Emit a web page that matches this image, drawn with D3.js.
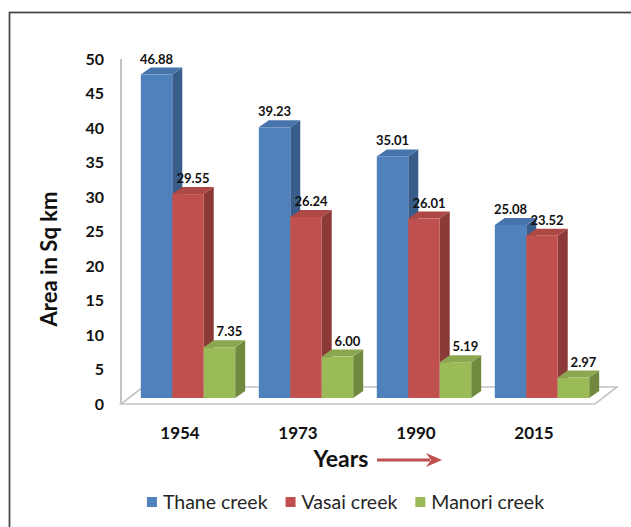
<!DOCTYPE html>
<html>
<head>
<meta charset="utf-8">
<script src="https://cdn.jsdelivr.net/npm/d3@7"></script>
<style>
  html, body { margin: 0; padding: 0; background: #fff; }
  svg { display: block; }
</style>
</head>
<body>
<svg id="chart" width="631" height="527"></svg>
<script>
const years = ["1954", "1973", "1990", "2015"];
const seriesNames = ["Thane creek", "Vasai creek", "Manori creek"];
const thane = [46.88, 39.23, 35.01, 25.08];
const vasai = [29.55, 26.24, 26.01, 23.52];
const manori = [7.35, 6.00, 5.19, 2.97];
const yTicks = [0, 5, 10, 15, 20, 25, 30, 35, 40, 45, 50];
const seriesValues = [thane, vasai, manori];
const colors = [
  { front: "#4f81bd", side: "#385d8a", top: "#4674ab" },
  { front: "#c0504d", side: "#8c3a38", top: "#ad4845" },
  { front: "#9bbb59", side: "#71893f", top: "#8ba850" }
];

const svg = d3.select("#chart");
const font = "Lato, 'Open Sans', sans-serif";

// Outer border
svg.append("rect").attr("x", 9.5).attr("y", 12.5).attr("width", 640).attr("height", 540)
  .attr("fill", "none").attr("stroke", "#4a4a4a").attr("stroke-width", 1.8);

const x = d3.scaleBand().domain(years).range([121, 593]).paddingInner(0.2).paddingOuter(0.1);
const y = d3.scaleLinear().domain([0, 50]).range([404, 59]);

const floorD = { dx: 22, dy: -17 };
const barOff = { dx: 8, dy: -6 };
const barD = { dx: 10, dy: -7 };

// left wall edge
svg.append("line").attr("x1", 121).attr("x2", 121).attr("y1", y(50)).attr("y2", y(0))
  .attr("stroke", "#c4c4c4").attr("stroke-width", 2);

// floor
const fl = [[121, y(0)], [595, y(0)], [595 + floorD.dx, y(0) + floorD.dy], [121 + floorD.dx, y(0) + floorD.dy]];
svg.append("polygon").attr("points", fl.map(p => p.join(",")).join(" "))
  .attr("fill", "#fff").attr("stroke", "#c4c4c4").attr("stroke-width", 1.6);

// y tick labels
svg.append("g").selectAll("text").data(yTicks).join("text")
  .attr("x", 104).attr("y", d => y(d)).attr("dy", "0.35em")
  .attr("text-anchor", "end").attr("font-family", font).attr("font-weight", "bold")
  .attr("font-size", 16).attr("fill", "#111").text(d => d);

// y title
svg.append("text").attr("transform", "translate(57,259) rotate(-90)")
  .attr("text-anchor", "middle").attr("font-family", font).attr("font-weight", "bold")
  .attr("font-size", 22).attr("fill", "#111").text("Area in Sq km");

const bw = x.bandwidth() / seriesNames.length;
const bars = svg.append("g");
years.forEach((yr, gi) => {
  seriesValues.forEach((vals, si) => {
    const v = vals[gi];
    const x0 = x(yr) + barOff.dx + si * bw;
    const x1 = x0 + bw;
    const yt = y(v) + barOff.dy;
    const yb = y(0) + barOff.dy;
    const c = colors[si];
    const g = bars.append("g");
    g.append("polygon").attr("points", [[x1, yt], [x1 + barD.dx, yt + barD.dy], [x1 + barD.dx, yb + barD.dy], [x1, yb]].map(p => p.join(",")).join(" "))
      .attr("fill", c.side);
    g.append("polygon").attr("points", [[x0, yt], [x1, yt], [x1 + barD.dx, yt + barD.dy], [x0 + barD.dx, yt + barD.dy]].map(p => p.join(",")).join(" "))
      .attr("fill", c.top);
    g.append("rect").attr("x", x0).attr("y", yt).attr("width", bw).attr("height", yb - yt).attr("fill", c.front);
    g.append("text").attr("x", (x0 + x1) / 2 + si * 5).attr("y", yt + barD.dy - 4)
      .attr("text-anchor", "middle").attr("font-family", font).attr("font-weight", "bold")
      .attr("font-size", 13).attr("fill", "#111").text(v.toFixed(2));
  });
});

// x labels
svg.append("g").selectAll("text").data(years).join("text")
  .attr("x", d => x(d) + x.bandwidth() / 2).attr("y", 439)
  .attr("text-anchor", "middle").attr("font-family", font).attr("font-weight", "bold")
  .attr("font-size", 17).attr("fill", "#111").text(d => d);

// x title + arrow
svg.append("text").attr("x", 341).attr("y", 467).attr("text-anchor", "middle")
  .attr("font-family", font).attr("font-weight", "bold").attr("font-size", 23)
  .attr("fill", "#111").text("Years");
svg.append("line").attr("x1", 377).attr("x2", 430).attr("y1", 460).attr("y2", 460)
  .attr("stroke", "#c0504d").attr("stroke-width", 3);
svg.append("polygon").attr("points", "426,453 442,460 426,467 431,460").attr("fill", "#c0504d");

// legend
const leg = svg.append("g");
let lx = 0;
seriesNames.forEach((n, i) => {
  const it = leg.append("g");
  it.append("rect").attr("x", lx).attr("y", -5).attr("width", 10).attr("height", 10).attr("fill", colors[i].front);
  const t = it.append("text").attr("x", lx + 16).attr("y", 0).attr("dy", "0.35em")
    .attr("font-family", font).attr("font-size", 19.5).attr("fill", "#262626").text(n);
  lx += 16 + t.node().getComputedTextLength() + 18;
});
const totalW = lx - 18;
leg.attr("transform", `translate(${345.5 - totalW / 2},502)`);
</script>
</body>
</html>
